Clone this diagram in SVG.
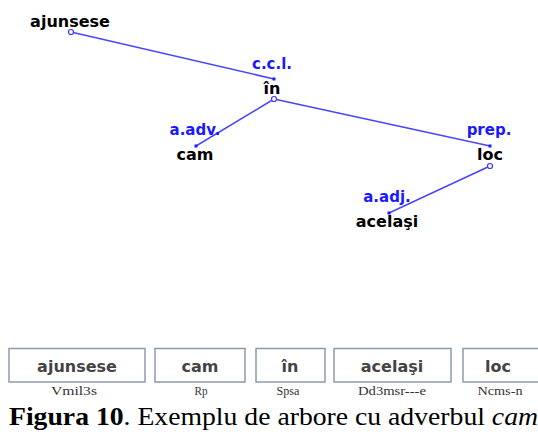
<svg xmlns="http://www.w3.org/2000/svg" width="538" height="432" viewBox="0 0 538 432">
<style>
.w{font-family:"DejaVu Sans",Verdana,sans-serif;font-weight:bold;font-size:16px;fill:#000;text-anchor:middle}
.lb{font-family:"DejaVu Sans",Verdana,sans-serif;font-weight:bold;font-size:15px;fill:#1a1aff;text-anchor:middle}
.ln{stroke:#4646ff;stroke-width:1.5;fill:none}
.oc{stroke:#3a3aff;stroke-width:1.2;fill:#fff}
.dt{fill:#1a1aff}
.bx{fill:#fff;stroke:#8c9ab0;stroke-width:1.5}
.bt{font-family:"DejaVu Sans",Verdana,sans-serif;font-weight:bold;font-size:16px;fill:#444;text-anchor:middle}
.tg{font-family:"Liberation Serif","Times New Roman",serif;font-size:11.5px;fill:#333;text-anchor:middle}
.cap{font-family:"Liberation Serif","Times New Roman",serif;font-size:25px;fill:#000}
</style>
<rect width="538" height="432" fill="#fff"/>
<g id="connectors">
<line class="ln" x1="71" y1="32" x2="274" y2="79"/>
<line class="ln" x1="274" y1="99" x2="196" y2="146"/>
<line class="ln" x1="274" y1="99" x2="490" y2="146"/>
<line class="ln" x1="490" y1="166" x2="389" y2="213"/>
</g>
<g id="n-ajunsese">
<text class="w" x="70" y="27">ajunsese</text>
<circle class="oc" cx="71" cy="32" r="2.5"/>
</g>
<g id="n-in">
<text class="lb" x="272" y="69">c.c.l.</text>
<rect class="dt" x="272.5" y="77.5" width="3" height="3"/>
<text class="w" x="272" y="94">în</text>
<circle class="oc" cx="274" cy="99" r="2.5"/>
</g>
<g id="n-cam">
<text class="lb" x="195" y="135">a.adv.</text>
<rect class="dt" x="194.5" y="144.5" width="3" height="3"/>
<text class="w" x="195" y="160">cam</text>
</g>
<g id="n-loc">
<text class="lb" x="489" y="135">prep.</text>
<rect class="dt" x="488.5" y="144.5" width="3" height="3"/>
<text class="w" x="490" y="160">loc</text>
<circle class="oc" cx="490" cy="166" r="2.5"/>
</g>
<g id="n-acelasi">
<text class="lb" x="387" y="202">a.adj.</text>
<rect class="dt" x="387.5" y="211.5" width="3" height="3"/>
<text class="w" x="387" y="227">acelaşi</text>
</g>
<g id="tokens">
<rect class="bx" x="9" y="348.5" width="136" height="33.5"/>
<text class="bt" x="77" y="372">ajunsese</text>
<text class="tg" x="74" y="395" textLength="46" lengthAdjust="spacingAndGlyphs">Vmil3s</text>
<rect class="bx" x="155" y="348.5" width="90" height="33.5"/>
<text class="bt" x="200" y="372">cam</text>
<text class="tg" x="201" y="395" textLength="13" lengthAdjust="spacingAndGlyphs">Rp</text>
<rect class="bx" x="256" y="348.5" width="69" height="33.5"/>
<text class="bt" x="290" y="372">în</text>
<text class="tg" x="288" y="395" textLength="23" lengthAdjust="spacingAndGlyphs">Spsa</text>
<rect class="bx" x="334" y="348.5" width="117" height="33.5"/>
<text class="bt" x="392" y="372">acelaşi</text>
<text class="tg" x="392" y="395" textLength="68" lengthAdjust="spacingAndGlyphs">Dd3msr---e</text>
<rect class="bx" x="463" y="348.5" width="80" height="33.5"/>
<text class="bt" x="498" y="372">loc</text>
<text class="tg" x="500" y="395" textLength="45" lengthAdjust="spacingAndGlyphs">Ncms-n</text>
</g>
<text class="cap" x="9" y="425" textLength="529" lengthAdjust="spacingAndGlyphs"><tspan font-weight="bold">Figura 10</tspan>. Exemplu de arbore cu adverbul <tspan font-style="italic">cam</tspan></text>
</svg>
